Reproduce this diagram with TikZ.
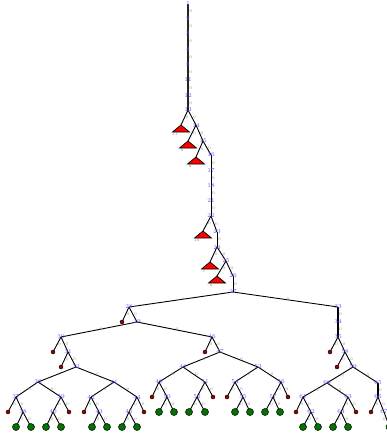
\documentclass[tikz,border=0pt]{standalone}
\definecolor{lblue}{RGB}{85,85,255}
\definecolor{dred}{RGB}{150,0,0}
\definecolor{dgreen}{RGB}{0,115,0}
\pgfdeclarelayer{bg}
\pgfsetlayers{bg,main}
\begin{document}
\begin{tikzpicture}[x=1pt,y=-1pt,
  bn/.style={font=\fontsize{6}{6}\selectfont, text=lblue, inner sep=0pt},
  edge/.style={draw=black, line width=0.9pt},
  trunk/.style={draw=black!85, line width=1.6pt},
  el/.style={font=\fontsize{4}{4}\selectfont, text=black!45, inner sep=0.6pt, anchor=west},
  rdot/.style={circle, draw=black, fill=dred, line width=0.4pt, minimum size=4pt, inner sep=0pt},
  gdot/.style={circle, draw=black, fill=dgreen, line width=0.5pt, minimum size=7pt, inner sep=0pt},
  tri/.style={draw=black, fill=red, line width=0.7pt, line join=miter},
  tl/.style={font=\fontsize{3.5}{3.5}\selectfont, text=black!60, inner sep=0pt},
  ti/.style={font=\fontsize{3}{3}\selectfont, text=black!75, inner sep=0pt}]
\useasboundingbox (0,0) rectangle (387,433);
% spine
\node[bn] (t1) at (188,4) {1};
\node[bn] (t2) at (188,19) {2};
\node[bn] (t3) at (188,34) {3};
\node[bn] (t4) at (188,49) {4};
\node[bn] (t5) at (188,65) {5};
\node[bn] (t6) at (188,80) {11};
\node[bn] (t7) at (188,96) {12};
\node[bn] (t8) at (188,110) {13};
\node[bn] (t9) at (196,125) {14};
\node[bn] (t10) at (203,141) {15};
\node[bn] (t11) at (211,155) {16};
\node[bn] (t12) at (211,171) {17};
\node[bn] (t13) at (211,186) {18};
\node[bn] (t14) at (211,201) {21};
\node[bn] (t15) at (211,216) {22};
\node[bn] (t16) at (217,232) {23};
\node[bn] (t17) at (217,247) {24};
\node[bn] (t18) at (226,261) {25};
\node[bn] (t19) at (233,276) {26};
\node[bn] (R) at (233,292) {27};
% triangles
\coordinate (ta) at (181,125);
\coordinate (tb) at (188,141);
\coordinate (tc) at (196,157);
\coordinate (td) at (203,231);
\coordinate (te) at (210,262);
\coordinate (tf) at (217,276);
\foreach \c/\l in {ta/11,tb/9,tc/8,td/10,te/7,tf/6}{
  \draw[tri] (\c) -- ++(-8.5,7) -- ++(17,0) -- cycle;
  \node[ti] at ([shift={(0,4.6)}]\c) {1};
  \node[tl] at ([shift={(-6,9.5)}]\c) {\l};
}
% left subtree
\node[bn] (L1) at (129,307) {28};
\node[bn] (L2) at (137,322) {29};
\node[bn] (L3) at (61,337) {30};
\node[bn] (L4) at (68,352) {31};
\node[bn] (L5) at (76,367) {32};
\node[bn] (A1) at (38,382) {36};
\node[bn] (B1) at (114,382) {41};
\node[bn] (A2) at (16,397) {37};
\node[bn] (A3) at (61,397) {39};
\node[bn] (A4) at (23,412) {38};
\node[bn] (A5) at (53,412) {40};
\node[bn] (B2) at (91,397) {42};
\node[bn] (B3) at (137,397) {44};
\node[bn] (B4) at (99,412) {43};
\node[bn] (B5) at (129,412) {45};
\node[bn] (M1) at (212,337) {46};
\node[bn] (M2) at (220,352) {47};
\node[bn] (C1) at (183,367) {48};
\node[bn] (D1) at (258,367) {53};
\node[bn] (C2) at (159,382) {49};
\node[bn] (C3) at (205,382) {51};
\node[bn] (C4) at (167,397) {50};
\node[bn] (C5) at (197,397) {52};
\node[bn] (D2) at (235,382) {54};
\node[bn] (D3) at (281,382) {56};
\node[bn] (D4) at (243,397) {55};
\node[bn] (D5) at (273,397) {57};
% right subtree
\node[bn] (Rr) at (338,307) {33};
\node[bn] (Rr2) at (338,322) {34};
\node[bn] (Rr3) at (338,337) {35};
\node[bn] (Rr4) at (345,352) {58};
\node[bn] (Rr5) at (353,367) {59};
\node[bn] (E1) at (327,383) {60};
\node[bn] (F1) at (378,383) {65};
\node[bn] (E2) at (303,397) {61};
\node[bn] (E3) at (348,397) {63};
\node[bn] (E4) at (311,412) {62};
\node[bn] (E5) at (341,412) {64};
\node[bn] (F2) at (378,397) {66};
\node[bn] (F3) at (384,412) {67};
% red leaves
\foreach \n/\p in {d1/{(122,322)},d2/{(53,352)},d3/{(61,367)},d4/{(8,412)},d5/{(69,412)},
  d6/{(84,412)},d7/{(144,412)},d8/{(205,352)},d9/{(152,397)},d10/{(213,397)},
  d11/{(227,397)},d12/{(288,397)},d13/{(330,352)},d14/{(337,367)},d15/{(296,412)},
  d16/{(356,412)},d17/{(371,412)}}
  \node[rdot] (\n) at \p {};
% green leaves
\foreach \n/\p in {g1/{(16,427)},g2/{(31,427)},g3/{(46,427)},g4/{(61,427)},
  g5/{(92,427)},g6/{(107,427)},g7/{(122,427)},g8/{(137,427)},
  g9/{(159,412)},g10/{(174,412)},g11/{(189,412)},g12/{(205,412)},
  g13/{(235,412)},g14/{(250,412)},g15/{(265,412)},g16/{(280,412)},
  g17/{(303,427)},g18/{(318,427)},g19/{(333,427)},g20/{(348,427)},g21/{(389.5,427)}}
  \node[gdot] (\n) at \p {};
\begin{pgfonlayer}{bg}
\fill[white] (0,0) rectangle (387,433);
\foreach \a/\b in {t1/t2,t2/t3,t3/t4,t4/t5,t5/t6,t6/t7,t7/t8}
  \draw[trunk] (\a.center) -- (\b.center) node[el,midway]{0};
\foreach \a/\b in {Rr/Rr2,Rr2/Rr3,F1/F2}
  \draw[edge,line width=1.2pt] (\a.center) -- (\b.center) node[el,midway]{0};
\draw[edge] (F3.center) -- (g21.center) node[el,midway,anchor=east]{0};
\foreach \a/\b in {t8/ta,t8/t9,t9/tb,t9/t10,t10/tc,t10/t11,t11/t12,t12/t13,t13/t14,
  t14/t15,t15/td,t15/t16,t16/t17,t17/te,t17/t18,t18/tf,t18/t19,t19/R,
  R/L1,R/Rr,L1/d1,L1/L2,L2/L3,L2/M1,L3/d2,L3/L4,L4/d3,L4/L5,L5/A1,L5/B1,
  A1/A2,A1/A3,A2/d4,A2/A4,A4/g1,A4/g2,A3/A5,A3/d5,A5/g3,A5/g4,
  B1/B2,B1/B3,B2/d6,B2/B4,B4/g5,B4/g6,B3/B5,B3/d7,B5/g7,B5/g8,
  M1/d8,M1/M2,M2/C1,M2/D1,C1/C2,C1/C3,C2/d9,C2/C4,C4/g9,C4/g10,
  C3/C5,C3/d10,C5/g11,C5/g12,D1/D2,D1/D3,D2/d11,D2/D4,D4/g13,D4/g14,
  D3/D5,D3/d12,D5/g15,D5/g16,
  Rr3/d13,Rr3/Rr4,Rr4/d14,Rr4/Rr5,Rr5/E1,Rr5/F1,E1/E2,E1/E3,
  E2/d15,E2/E4,E4/g17,E4/g18,E3/E5,E3/d16,E5/g19,E5/g20,
  F2/d17,F2/F3}
  \draw[edge] (\a.center) -- (\b.center) node[el,midway]{0};
\end{pgfonlayer}
\end{tikzpicture}
\end{document}
